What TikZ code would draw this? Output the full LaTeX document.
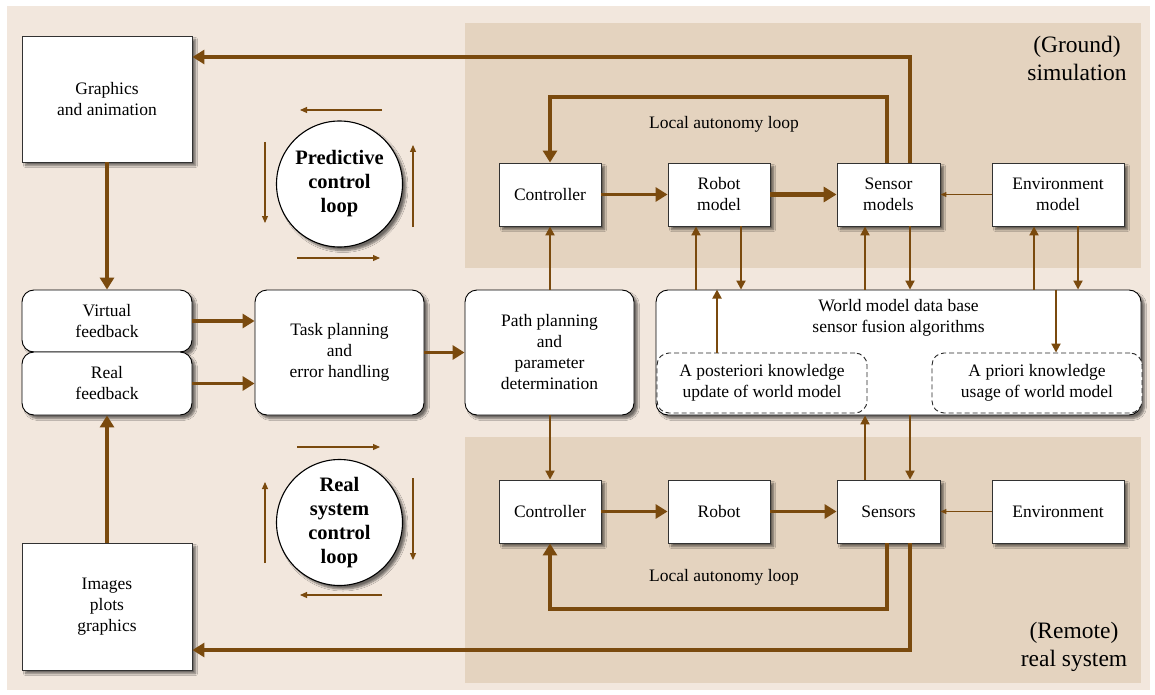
\documentclass[tikz,border=0pt]{standalone}
\usepackage{fontspec}
\setmainfont{Liberation Serif}
\usetikzlibrary{arrows.meta,shadows,shadows.blur}
\definecolor{outerbg}{RGB}{242,231,221}
\definecolor{panelbg}{RGB}{228,211,191}
\definecolor{arr}{RGB}{122,74,14}
\definecolor{boxline}{RGB}{50,50,50}
\begin{document}
\begin{tikzpicture}[x=1pt,y=-1pt,
  txt/.style={font=\fontsize{17.5}{21}\selectfont, align=center},
  shad/.style={blur shadow={shadow xshift=3.5pt,shadow yshift=-3.5pt,shadow blur radius=2pt,shadow blur steps=6,shadow opacity=55}},
  sqbox/.style={txt, draw=boxline, line width=0.9pt, fill=white, shad, inner sep=0pt},
  rbox/.style={sqbox, rounded corners=12pt, draw=black},
  dbox/.style={txt, draw=black!85, dash pattern=on 5pt off 3pt, line width=0.9pt, rounded corners=12pt, fill=white, inner sep=0pt},
  loopc/.style={circle, draw=black, line width=1.1pt, fill=white, shad, minimum size=126pt, inner sep=0pt, align=center, font=\fontsize{20.5}{24}\selectfont\bfseries},
  arrbig/.style={draw=arr, line width=3.6pt, -{Triangle[length=12pt,width=14pt]}},
  arrhuge/.style={draw=arr, line width=4.8pt, -{Triangle[length=13pt,width=15pt]}},
  arrmid/.style={draw=arr, line width=2pt, -{Triangle[length=9pt,width=9pt]}},
  arrthin/.style={draw=arr, line width=1pt, -{Triangle[length=6pt,width=5pt]}},
  arrloop/.style={draw=arr, line width=1.1pt, -{Triangle[length=7pt,width=6pt]}},
]
\useasboundingbox (0,0) rectangle (1155,695);
\fill[outerbg] (7,6) rectangle (1150,690);
\fill[panelbg] (465,23) rectangle (1141,268);
\fill[panelbg] (465,437) rectangle (1141,683);

% left column
\node[sqbox, minimum width=170pt, minimum height=126pt] (gfx) at (107,99) {Graphics\\and animation};
\node[sqbox, minimum width=170pt, minimum height=127pt] (img) at (107,606.5) {Images\\plots\\graphics};
\node[rbox, minimum width=170pt, minimum height=62pt] (vf) at (107,321) {Virtual\\feedback};
\node[rbox, minimum width=170pt, minimum height=63pt] (rf) at (107,383.5) {Real\\feedback};

% middle
\node[rbox, minimum width=169pt, minimum height=125pt] (task) at (339.5,352.5) {Task planning\\and\\error handling};
\node[rbox, minimum width=169pt, minimum height=125pt] (path) at (549.5,352.5) {Path planning\\and\\parameter\\determination};

% world model
\node[rbox, minimum width=485pt, minimum height=125pt] (wm) at (898.5,352.5) {};
\node[txt] (wmt) at (898.5,318) {World model data base\\sensor fusion algorithms};
\node[dbox, minimum width=210pt, minimum height=60pt] (post) at (762,383) {A posteriori knowledge\\update of world model};
\node[dbox, minimum width=210pt, minimum height=60pt] (prio) at (1037,383) {A priori knowledge\\usage of world model};

% top row
\node[sqbox, minimum width=102pt, minimum height=63pt] (c1) at (550,194.5) {Controller};
\node[sqbox, minimum width=102pt, minimum height=63pt] (rm) at (719,194.5) {Robot\\model};
\node[sqbox, minimum width=103pt, minimum height=63pt] (sm) at (888.5,194.5) {Sensor\\models};
\node[sqbox, minimum width=132pt, minimum height=63pt] (em) at (1058,194.5) {Environment\\model};

% bottom row
\node[sqbox, minimum width=102pt, minimum height=63pt] (c2) at (550,511.5) {Controller};
\node[sqbox, minimum width=102pt, minimum height=63pt] (rb) at (719,511.5) {Robot};
\node[sqbox, minimum width=103pt, minimum height=63pt] (ss) at (888.5,511.5) {Sensors};
\node[sqbox, minimum width=132pt, minimum height=63pt] (en) at (1058,511.5) {Environment};

% circles
\node[loopc] (pc) at (339.5,184) {Predictive\\control\\loop};
\node[loopc] (rc) at (339.5,522.5) {Real\\system\\control\\loop};

% labels
\node[txt] (lal1) at (724,124) {Local autonomy loop};
\node[txt] (lal2) at (724,577) {Local autonomy loop};
\node[font=\fontsize{23.5}{28}\selectfont, align=center] (gs) at (1077,58) {(Ground)\\simulation};
\node[font=\fontsize{23.5}{28}\selectfont, align=center] (rs) at (1074,647) {(Remote)\\real system};

% loop arrows around circles
\draw[arrloop] (382,110) -- (300,110);
\draw[arrloop] (265,142) -- (265,223);
\draw[arrloop] (413,227) -- (413,145);
\draw[arrloop] (297,258) -- (380,258);
\draw[arrloop] (297,447) -- (380,447);
\draw[arrloop] (265,563) -- (265,482);
\draw[arrloop] (413,478) -- (413,560);
\draw[arrloop] (382,595) -- (300,595);

% left connectors
\draw[arrbig] (sm.north -| 910,0) |- (gfx.east |- 0,57);
\draw[arrbig] (gfx.south) -- (vf.north);
\draw[arrbig] (img.north) -- (rf.south);
\draw[arrbig] (vf.east) -- (vf.east -| task.west);
\draw[arrbig] (rf.east) -- (rf.east -| task.west);
\draw[arrbig] (task.east) -- (path.west);
\draw[arrmid] (c1.south |- path.north) -- (c1.south);
\draw[arrmid] (c2.north |- path.south) -- (c2.north);

% top row connectors
\draw[arrbig] (c1.east) -- (rm.west);
\draw[arrhuge] (rm.east) -- (sm.west);
\draw[arrthin] (em.west) -- (sm.east);
\draw[arrbig] (sm.north -| 887,0) |- (c1.north |- 0,97) -- (c1.north);
\draw[arrmid] (wm.north -| 696,0) -- (rm.south -| 696,0);
\draw[arrmid] (rm.south -| 741,0) -- (wm.north -| 741,0);
\draw[arrmid] (wm.north -| 865,0) -- (sm.south -| 865,0);
\draw[arrmid] (sm.south -| 910,0) -- (wm.north -| 910,0);
\draw[arrmid] (wm.north -| 1034,0) -- (em.south -| 1034,0);
\draw[arrmid] (em.south -| 1078,0) -- (wm.north -| 1078,0);
\draw[arrmid] (post.north -| 717,0) -- (wm.north -| 717,0);
\draw[arrmid] (wm.north -| 1056,0) -- (prio.north -| 1056,0);

% bottom row connectors
\draw[arrbig] (c2.east) -- (rb.west);
\draw[arrbig] (rb.east) -- (ss.west);
\draw[arrthin] (en.west) -- (ss.east);
\draw[arrmid] (ss.north -| 865,0) -- (wm.south -| 865,0);
\draw[arrmid] (wm.south -| 910,0) -- (ss.north -| 910,0);
\draw[arrbig] (ss.south -| 887,0) |- (c2.south |- 0,609) -- (c2.south);
\draw[arrbig] (ss.south -| 910,0) |- (img.east |- 0,650);
\end{tikzpicture}
\end{document}
